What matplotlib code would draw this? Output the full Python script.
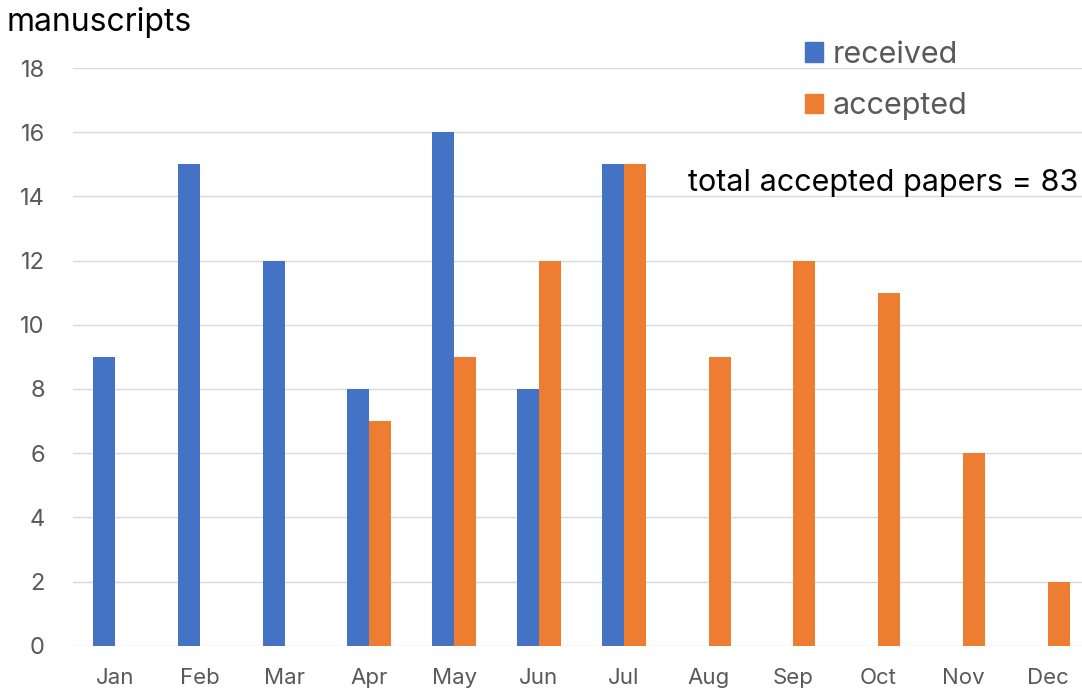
import numpy as np
import matplotlib.pyplot as plt
from matplotlib.patches import Patch

plt.rcParams['font.family'] = ['Inter', 'DejaVu Sans']

months = ['Jan', 'Feb', 'Mar', 'Apr', 'May', 'Jun',
          'Jul', 'Aug', 'Sep', 'Oct', 'Nov', 'Dec']
received = [9, 15, 12, 8, 16, 8, 15, 0, 0, 0, 0, 0]
accepted = [0, 0, 0, 7, 9, 12, 15, 9, 12, 11, 6, 2]
yticks = [0, 2, 4, 6, 8, 10, 12, 14, 16, 18]

blue = '#4472C4'
orange = '#ED7D31'
grey = '#595959'

fig = plt.figure(figsize=(10.82, 6.92), dpi=100)
ax = fig.add_axes([0.0671, 0.0669, 0.9329, 0.8348])

x = np.arange(len(months))
w = 0.26
ax.bar(x - w / 2, received, width=w, color=blue, zorder=3)
ax.bar(x + w / 2, accepted, width=w, color=orange, zorder=3)

ax.set_xlim(-0.5, 11.405)
ax.set_ylim(0, 18)
ax.set_yticks(yticks)
ax.set_xticks(x)
ax.set_xticklabels(months)
ax.yaxis.grid(True, color='#D9D9D9', linewidth=1, zorder=0)
for s in ax.spines.values():
    s.set_visible(False)
ax.tick_params(axis='both', length=0, labelcolor=grey)
ax.tick_params(axis='y', pad=20, labelsize=17)
ax.tick_params(axis='x', pad=16, labelsize=16)
for lab in ax.get_yticklabels():
    lab.set_horizontalalignment('right')

fig.text(0.006, 0.968, 'manuscripts', fontsize=23, color='black', va='center')

handles = [Patch(color=blue, label='received'), Patch(color=orange, label='accepted')]
ax.legend(handles=handles, loc='upper left', bbox_to_anchor=(0.7256, 1.047),
          frameon=False, fontsize=22, labelcolor=grey, handlelength=0.6,
          handleheight=0.6, handletextpad=0.3, labelspacing=0.77,
          borderpad=0, borderaxespad=0)

ax.text(0.996, 0.801, f'total accepted papers = {sum(accepted)}',
        transform=ax.transAxes, ha='right', va='center', fontsize=22, color='black')

fig.savefig('out.png', dpi=100)
